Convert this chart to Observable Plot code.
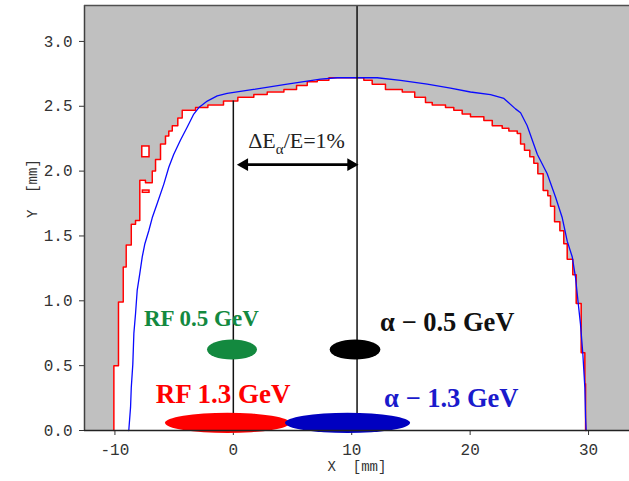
<!DOCTYPE html>
<html><head><meta charset="utf-8">
<script src="https://cdn.jsdelivr.net/npm/d3@7"></script>
<script src="https://cdn.jsdelivr.net/npm/@observablehq/plot@0.6"></script>
<style>body{margin:0;background:#fff;} #chart svg{display:block;}</style>
</head><body><div id="chart"></div>
<script>
// ---- data ----
const xTicks = [-10, 0, 10, 20, 30];
const yTicks = [0, 0.5, 1, 1.5, 2, 2.5, 3];
const xDomain = [-12.57, 33.46];
const yDomain = [0, 3.277];

// red stepped boundary (RF aperture), step corners
const redX = [-10.09,-9.70,-9.30,-9.05,-8.62,-8.26,-7.90,-7.42,-6.85,-6.57,-6.15,-5.73,-5.45,-5.16,-4.69,-4.32,-3.19,-2.15,-0.83,0.38,1.73,2.86,4.27,5.34,6.24,7.09,8.07,11.02,11.73,12.85,14.27,15.32,16.23,16.80,17.92,18.62,19.33,20.03,21.16,21.87,22.71,23.27,23.98,24.26,24.59,25.04,25.38,25.72,26.17,26.56,26.79,27.13,27.58,27.91,28.20,28.67,28.96,29.38,29.69,29.75,29.75];
const redY = [0,0.50,0.99,1.26,1.43,1.59,1.62,1.93,1.91,2.00,2.09,2.21,2.27,2.31,2.35,2.41,2.47,2.49,2.51,2.54,2.57,2.59,2.61,2.63,2.66,2.69,2.70,2.72,2.70,2.67,2.63,2.61,2.57,2.53,2.51,2.49,2.47,2.44,2.42,2.39,2.35,2.33,2.31,2.29,2.21,2.16,2.11,2.06,1.98,1.85,1.81,1.73,1.61,1.54,1.44,1.32,1.20,0.98,0.60,0.36,0];

// blue smooth boundary
const blueX = [-8.83,-8.68,-8.62,-8.49,-8.40,-8.26,-8.12,-7.90,-7.69,-7.47,-7.14,-6.85,-6.43,-5.87,-5.45,-5.03,-4.46,-3.89,-3.34,-2.91,-2.20,-1.36,-0.52,1.71,4.55,7.36,8.78,12.15,14.12,16.38,18.34,20.03,21.72,22.85,23.83,24.26,24.82,25.67,26.51,27.21,27.78,28.20,28.62,28.90,29.13,29.32,29.52,29.69,29.75,29.80];
const blueY = [0,0.18,0.33,0.51,0.75,0.90,1.08,1.21,1.34,1.44,1.54,1.64,1.75,1.90,2.03,2.13,2.24,2.34,2.44,2.49,2.54,2.58,2.60,2.63,2.67,2.71,2.72,2.72,2.70,2.67,2.64,2.61,2.59,2.56,2.48,2.45,2.35,2.13,1.98,1.80,1.64,1.46,1.34,1.18,0.98,0.82,0.59,0.33,0.10,0];

// small isolated red islands
const islandX1 = [-7.69, -7.64];
const islandX2 = [-7.08, -7.08];
const islandY1 = [2.107, 1.833];
const islandY2 = [2.19, 1.85];

// reference lines (energy offsets) and arrow
const refLineX = [0, 10.45];
const refLineTop = [2.54, 3.277];
const arrowY = 2.05;
const deltaLabel = "ΔEα/E=1%";
const deltaX = 5.34, deltaY = 2.232;

// beams (ellipses)
const beamNames = ["RF 1.3 GeV", "α − 1.3 GeV", "RF 0.5 GeV", "α − 0.5 GeV"];
const beamCX = [-0.45, 9.69, -0.07, 10.32];
const beamCY = [0.055, 0.055, 0.62, 0.62];
const beamRX = [5.28, 5.28, 2.11, 2.14];
const beamRY = [0.078, 0.078, 0.077, 0.077];
const beamLabelX = [-0.87, 18.41, -2.70, 18.07];
const beamLabelY = [0.276, 0.244, 0.864, 0.829];

// ---- styles ----
const beamColors = ["#ff0000", "#0000c0", "#13893f", "#000000"];
const beamTextColors = ["#ff0000", "#1a1acc", "#13893f", "#111111"];
const beamFontSize = [27, 26.5, 23, 26.5];

const red = redX.map((x, i) => ({x, y: redY[i]}));
const blue = blueX.map((x, i) => ({x, y: blueY[i]}));
const islands = islandX1.map((x1, i) => ({x1, x2: islandX2[i], y1: islandY1[i], y2: islandY2[i]}));
const refs = refLineX.map((x, i) => ({x, top: refLineTop[i]}));
const beams = beamNames.map((name, i) => ({name, cx: beamCX[i], cy: beamCY[i], rx: beamRX[i], ry: beamRY[i], lx: beamLabelX[i], ly: beamLabelY[i], i}));

function ellipseMark(index, scales) {
  const g = d3.create("svg:g");
  beams.forEach((b, i) => {
    const cx = scales.x(b.cx), cy = scales.y(b.cy);
    g.append("ellipse")
      .attr("cx", cx).attr("cy", cy)
      .attr("rx", Math.abs(scales.x(b.cx + b.rx) - cx))
      .attr("ry", Math.abs(scales.y(b.cy + b.ry) - cy))
      .attr("fill", beamColors[i]);
  });
  return g.node();
}

const serif = "'Liberation Serif', 'Times New Roman', serif";
const deltaFont = 22;

const plot = Plot.plot({
  width: 629,
  height: 481,
  marginLeft: 84,
  marginTop: 5,
  marginBottom: 51,
  marginRight: 0,
  style: {fontFamily: "'Liberation Mono', monospace", fontSize: "16px", color: "#333", background: "white"},
  x: {domain: xDomain, ticks: xTicks, tickSize: 5, tickPadding: 8, tickFormat: d => String(d), label: null},
  y: {domain: yDomain, ticks: yTicks, tickSize: 5, tickPadding: 7, tickFormat: d => d.toFixed(1), label: null},
  marks: [
    Plot.frame({fill: "#c0c0c0", stroke: null}),
    Plot.areaY(red, {x: "x", y: "y", curve: "step-before", fill: "white"}),
    Plot.rect(islands, {x1: "x1", x2: "x2", y1: "y1", y2: "y2", fill: "white", stroke: "red", strokeWidth: 1.5}),
    Plot.line(red, {x: "x", y: "y", curve: "step-before", stroke: "red", strokeWidth: 1.5}),
    Plot.line(blue, {x: "x", y: "y", stroke: "#0a0aff", strokeWidth: 1.3}),
    Plot.ruleX(refs, {x: "x", y1: 0, y2: "top", stroke: "#111", strokeWidth: 1.5}),
    Plot.ruleY([arrowY], {x1: refLineX[0], x2: refLineX[1], y: d => d, stroke: "black", strokeWidth: 2.6, insetLeft: 8, insetRight: 6}),
    Plot.dot([arrowY], {x: refLineX[0], y: d => d, symbol: "triangle", r: 4.8, rotate: -90, fill: "black", stroke: null, dx: 11}),
    Plot.dot([arrowY], {x: refLineX[1], y: d => d, symbol: "triangle", r: 4.8, rotate: 90, fill: "black", stroke: null, dx: -6}),
    Plot.text([deltaLabel], {x: deltaX, y: deltaY, text: d => d, fontFamily: serif, fontSize: deltaFont, fill: "#222"}),
    ellipseMark,
    Plot.text(beams, {x: "lx", y: "ly", text: "name", fontFamily: serif, fontWeight: "bold",
      fontSize: d => beamFontSize[d.i], fill: d => beamTextColors[d.i]}),
    Plot.ruleX([xDomain[0]], {stroke: "#404040", strokeWidth: 1.5}),
    Plot.ruleY([yDomain[0]], {stroke: "#222", strokeWidth: 1.5}),
    Plot.ruleY([yDomain[1]], {stroke: "#505050", strokeWidth: 1.5}),
    Plot.text(["X\u00a0\u00a0[mm]"], {frameAnchor: "bottom", dy: 40, fontSize: 14, fill: "#333", text: d => d}),
    Plot.text(["Y\u00a0\u00a0[mm]"], {frameAnchor: "left", dx: -52, rotate: -90, fontSize: 14, fill: "#333", text: d => d})
  ]
});

// subscript alpha in ΔEα/E label
plot.querySelectorAll("text").forEach(t => {
  if (t.textContent === deltaLabel) {
    while (t.firstChild) t.removeChild(t.firstChild);
    const ns = "http://www.w3.org/2000/svg";
    const a = document.createElementNS(ns, "tspan"); a.textContent = "ΔE";
    const b = document.createElementNS(ns, "tspan"); b.textContent = "α";
    b.setAttribute("font-size", (deltaFont * 0.68) + "px"); b.setAttribute("dy", (deltaFont * 0.25) + "px");
    const c = document.createElementNS(ns, "tspan"); c.textContent = "/E=1%";
    c.setAttribute("dy", (-deltaFont * 0.25) + "px");
    t.appendChild(a); t.appendChild(b); t.appendChild(c);
  }
});

document.getElementById("chart").appendChild(plot);
</script>
</body></html>
